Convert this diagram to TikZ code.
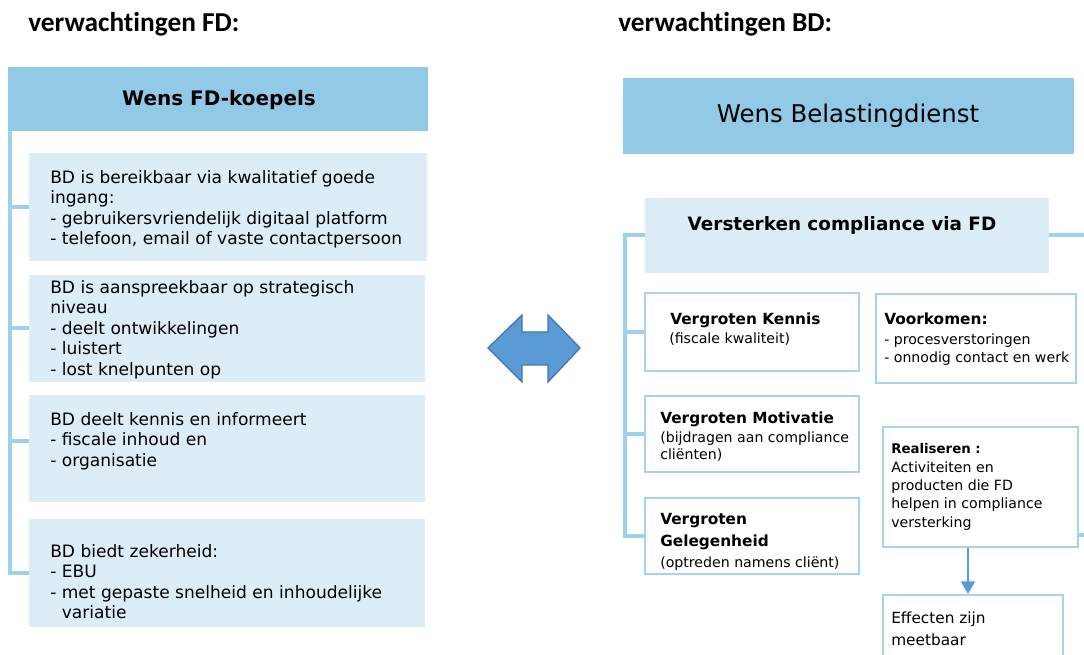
\documentclass[tikz,border=0pt]{standalone}
\usepackage{fontspec}
\setmainfont{DejaVu Sans}
\newfontfamily\titlefont[Ligatures=NoCommon]{Carlito}
\usetikzlibrary{arrows.meta,fit}
\definecolor{hdrblue}{HTML}{92C9E7}
\definecolor{lightblue}{HTML}{DCEDF8}
\definecolor{linkblue}{HTML}{9DD1EC}
\definecolor{borderblue}{HTML}{A6D3EE}
\definecolor{arrowblue}{HTML}{5B9BD5}
\definecolor{arrowedge}{HTML}{4178B0}
\tikzset{
  hdrbox/.style={fill=hdrblue,inner sep=0},
  litebox/.style={fill=lightblue,inner sep=0},
  whitebox/.style={draw=borderblue,line width=1.5pt,fill=white,inner sep=0},
  conn/.style={draw=linkblue,line width=3pt},
  pagetitle/.style={anchor=base west,inner sep=0,font=\titlefont\bfseries\fontsize{20.5}{24}\selectfont},
  body/.style={anchor=north west,inner sep=0,align=left,font=\fontsize{12.8}{15.3}\selectfont},
  bigbold/.style={anchor=base west,inner sep=0,align=left,font=\bfseries\fontsize{11.5}{16.5}\selectfont},
  small/.style={anchor=north west,inner sep=0,align=left,font=\fontsize{10.6}{13.5}\selectfont},
  smallbase/.style={anchor=base west,inner sep=0,font=\fontsize{10.6}{13.5}\selectfont},
}
\begin{document}
\begin{tikzpicture}[x=0.75pt,y=-0.75pt]
\useasboundingbox (0,0) rectangle (1084,655);

% titles
\node[pagetitle] (tfd) at (28,32) {verwachtingen FD:};
\node[pagetitle] (tbd) at (618,32) {verwachtingen BD:};

% ---------- left column ----------
\node[hdrbox,fit={(8,67) (428,131)}] (fdhead) {};
\node[anchor=base,inner sep=0,font=\bfseries\fontsize{15}{18}\selectfont] (fdheadtxt) at (219,106) {Wens FD-koepels};

\node[litebox,fit={(29,153) (427,261)}] (b1) {};
\node[litebox,fit={(29,275) (425,382)}] (b2) {};
\node[litebox,fit={(29,395) (425,502)}] (b3) {};
\node[litebox,fit={(29,519) (425,627)}] (b4) {};

\coordinate (lx) at (10,131);
\draw[conn] (lx) |- (b4.west);
\draw[conn] (lx |- b1.west) -- (b1.west);
\draw[conn] (lx |- b2.west) -- (b2.west);
\draw[conn] ([yshift=6pt]lx |- b3.west) -- ([yshift=6pt]b3.west);

\node[body] (t1) at (50,170.3) {\vphantom{Bd}BD is bereikbaar via kwalitatief goede\\ingang:\\- gebruikersvriendelijk digitaal platform\\- telefoon, email of vaste contactpersoon};
\node[body] (t2) at (50,280.3) {\vphantom{Bd}BD is aanspreekbaar op strategisch\\niveau\\- deelt ontwikkelingen\\- luistert\\- lost knelpunten op};
\node[body] (t3) at (50,412.3) {\vphantom{Bd}BD deelt kennis en informeert\\- fiscale inhoud en\\- organisatie};
\node[body] (t4) at (50,544.3) {\vphantom{Bd}BD biedt zekerheid:\\- EBU\\- met gepaste snelheid en inhoudelijke\\\phantom{- }variatie};

% ---------- double arrow ----------
\filldraw[fill=arrowblue,draw=arrowedge,line width=1pt,line join=miter]
  (488,348) -- (522,315) -- (522,332) -- (548,332) -- (548,315) -- (580,348)
  -- (548,382) -- (548,365) -- (522,365) -- (522,382) -- cycle;

% ---------- right column ----------
\node[hdrbox,fit={(623,78) (1074,154)}] (bdhead) {};
\node[anchor=base,inner sep=0,font=\fontsize{18.3}{22}\selectfont] (bdheadtxt) at (848,123) {Wens Belastingdienst};

\node[litebox,fit={(645,198) (1049,273)}] (vs) {};
\node[anchor=base,inner sep=0,font=\bfseries\fontsize{13.8}{16}\selectfont] (vstxt) at (842,231) {Versterken compliance via FD};

\node[whitebox,fit={(645,293) (859,371)}] (kn) {};
\node[whitebox,fit={(645,396) (859,472)}] (mo) {};
\node[whitebox,fit={(645,498) (859,574)}] (gl) {};
\node[whitebox,fit={(876,294) (1076,383)}] (vk) {};
\node[whitebox,fit={(883,427) (1078,547)}] (re) {};
\node[whitebox,fit={(883,595) (1063,664)}] (ef) {};

\coordinate (rx) at (625,0);
\coordinate (edge) at (1086,0);
\draw[conn] (vs.west) -| (rx |- gl.west) -- (gl.west);
\draw[conn] (rx |- kn.west) -- (kn.west);
\draw[conn] (rx |- mo.west) -- (mo.west);
\draw[conn] (vs.east) -- (vs.east -| edge);
\draw[conn] ([yshift=9.75pt]re.south east) -- ([yshift=9.75pt]re.south east -| edge);

\coordinate (ax) at (968,0);
\draw[arrowblue,line width=1.2pt,-{Triangle[width=10.5pt,length=9.5pt]}] (re.south -| ax) -- (ef.north -| ax);

% texts in white boxes
\node[bigbold] (kntitle) at (670,325) {Vergroten Kennis};
\node[smallbase] (knsub) at (669,344) {(fiscale kwaliteit)};

\node[bigbold] (motitle) at (660,423) {Vergroten Motivatie};
\node[small,font=\fontsize{10.6}{13}\selectfont] (mosub) at (660,431.4) {\vphantom{(Bd}(bijdragen aan compliance\\cliënten)};

\node[anchor=north west,inner sep=0,align=left,font=\bfseries\fontsize{11.5}{16.5}\selectfont] (gltitle) at (660,512.3) {\vphantom{(Bd}Vergroten\\Gelegenheid};
\node[smallbase] (glsub) at (660,567) {(optreden namens cliënt)};

\node[bigbold] (vktitle) at (884,325) {Voorkomen:};
\node[small] (vksub) at (884,333.4) {\vphantom{(Bd}- procesverstoringen\\- onnodig contact en werk};

\node[anchor=base west,inner sep=0,font=\bfseries\fontsize{10}{13}\selectfont] (retitle) at (891,453) {Realiseren :};
\node[small,font=\fontsize{10.6}{13.7}\selectfont] (resub) at (891,461.4) {\vphantom{(Bd}Activiteiten en\\producten die FD\\helpen in compliance\\versterking};

\node[anchor=north west,inner sep=0,align=left,font=\fontsize{11.5}{16.5}\selectfont] (eftxt) at (891,611.4) {\vphantom{(Bd}Effecten zijn\\meetbaar};
\end{tikzpicture}
\end{document}
